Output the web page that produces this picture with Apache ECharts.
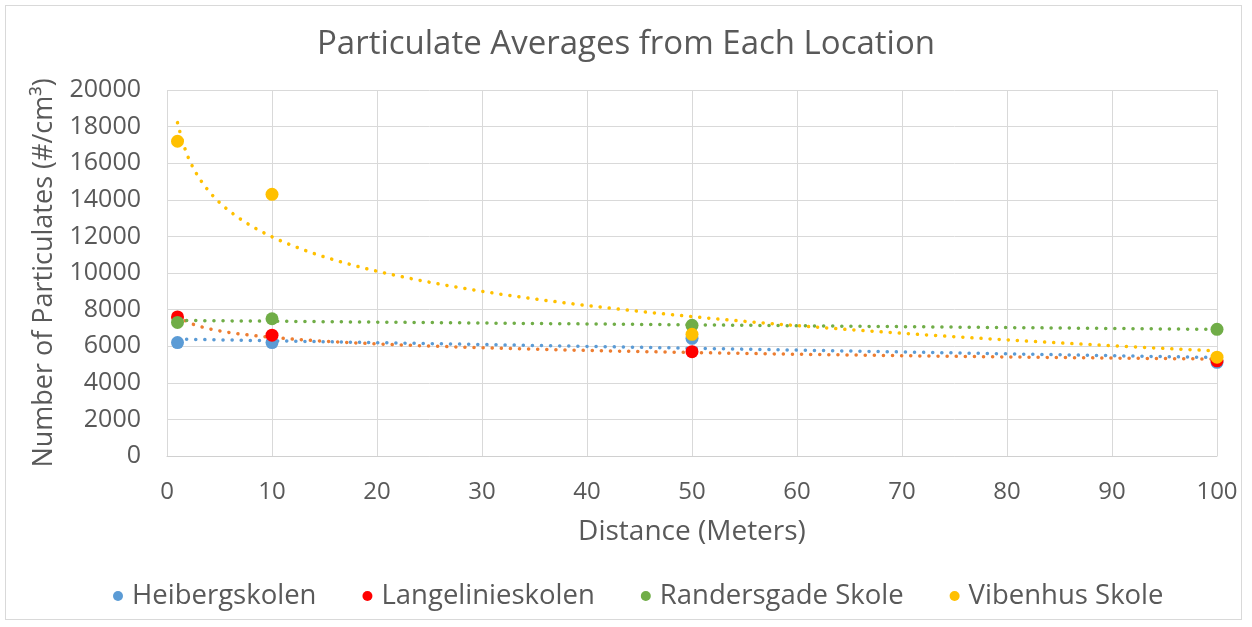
<!DOCTYPE html>
<html><head><meta charset="utf-8">
<script src="https://cdn.jsdelivr.net/npm/echarts@6/dist/echarts.min.js"></script>
<style>
html,body{margin:0;padding:0;background:#fff;}
#wrap{position:absolute;left:5px;top:5px;width:1235px;height:613px;border:1px solid #d9d9d9;}
#c{position:absolute;left:0;top:0;width:1252px;height:627px;}
</style></head>
<body><div id="wrap"></div><div id="c"></div>
<script>
const distances = [1, 10, 50, 100];
const heiberg = [6200, 6200, 6430, 5120];
const langelinie = [7600, 6600, 5700, 5200];
const randersgade = [7300, 7500, 7140, 6920];
const vibenhus = [17200, 14300, 6650, 5400];
const seriesNames = ['Heibergskolen', 'Langelinieskolen', 'Randersgade Skole', 'Vibenhus Skole'];
const markerColors = ['#5B9BD5', '#FF0000', '#70AD47', '#FFC000'];
const trendColors = ['#5B9BD5', '#ED7D31', '#70AD47', '#FFC000'];
const trendTypes = ['linear', 'log', 'linear', 'log'];
const xTicks = [0, 100, 10];
const yTicks = [0, 20000, 2000];

function fit(xs, ys, type) {
  const tx = xs.map(x => type === 'log' ? Math.log(x) : x);
  const n = xs.length;
  const mx = tx.reduce((a, b) => a + b, 0) / n;
  const my = ys.reduce((a, b) => a + b, 0) / n;
  let sxy = 0, sxx = 0;
  for (let i = 0; i < n; i++) { sxy += (tx[i] - mx) * (ys[i] - my); sxx += (tx[i] - mx) ** 2; }
  const b = sxy / sxx, a = my - b * mx;
  return x => a + b * (type === 'log' ? Math.log(x) : x);
}
const allData = [heiberg, langelinie, randersgade, vibenhus];
const series = [];
allData.forEach((ys, i) => {
  const f = fit(distances, ys, trendTypes[i]);
  const pts = [];
  const x0 = distances[0], x1 = distances[distances.length - 1];
  for (let k = 0; k <= 200; k++) { const x = x0 + (x1 - x0) * k / 200; pts.push([x, f(x)]); }
  series.push({
    type: 'line', data: pts, showSymbol: false, silent: true, smooth: false,
    lineStyle: { color: trendColors[i], width: 3.5, type: [0.1, 9], cap: 'round' },
    z: 2, legendHoverLink: false
  });
});
allData.forEach((ys, i) => {
  series.push({
    name: seriesNames[i], type: 'scatter', data: distances.map((x, k) => [x, ys[k]]),
    symbolSize: 13, itemStyle: { color: markerColors[i], opacity: 1 }, z: 5
  });
});
const txt = '#595959';
const font = '"Open Sans", "Liberation Sans", sans-serif';
const chart = echarts.init(document.getElementById('c'));
chart.setOption({
  animation: false,
  title: { text: 'Particulate Averages from Each Location', left: 'center', top: 23,
    textStyle: { color: txt, fontSize: 33, fontWeight: 'normal', fontFamily: font } },
  grid: { left: 167, right: 35, top: 90, bottom: 171 },
  legend: { bottom: 12, left: 108, itemGap: 46, itemWidth: 10, itemHeight: 10, icon: 'circle',
    data: seriesNames, textStyle: { color: txt, fontSize: 27.5, fontFamily: font, padding: [0, 0, 0, 4] } },
  xAxis: { type: 'value', min: xTicks[0], max: xTicks[1], interval: xTicks[2],
    name: 'Distance (Meters)', nameLocation: 'middle', nameGap: 62,
    nameTextStyle: { color: txt, fontSize: 28, fontFamily: font },
    axisLine: { show: true, lineStyle: { color: '#d0d0d0', width: 1 } }, axisTick: { show: false },
    axisLabel: { color: txt, fontSize: 24, fontFamily: font, margin: 24 },
    splitLine: { show: true, lineStyle: { color: '#d9d9d9', width: 1 } } },
  yAxis: { type: 'value', min: yTicks[0], max: yTicks[1], interval: yTicks[2],
    name: 'Number of Particulates (#/cm³)', nameLocation: 'middle', nameGap: 109, nameRotate: 90,
    nameTextStyle: { color: txt, fontSize: 27, fontFamily: font },
    axisLine: { show: false }, axisTick: { show: false },
    axisLabel: { color: txt, fontSize: 25, fontFamily: font, margin: 26, formatter: v => String(v) },
    splitLine: { show: true, lineStyle: { color: '#d9d9d9', width: 1 } } },
  series: series
});
</script></body></html>
